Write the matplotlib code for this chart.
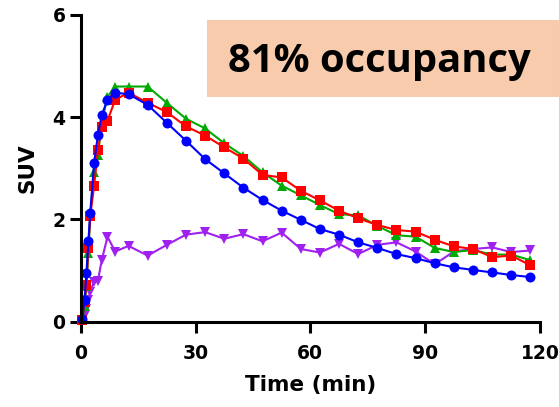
import matplotlib
matplotlib.use("Agg")
import matplotlib.pyplot as plt
from matplotlib.patches import Rectangle

times = [0.4, 1.0, 1.5, 2.0, 2.5, 3.5, 4.5, 5.5, 7.0, 9.0, 12.5,
         17.5, 22.5, 27.5, 32.5, 37.5, 42.5, 47.5, 52.5, 57.5, 62.5, 67.5,
         72.5, 77.5, 82.5, 87.5, 92.5, 97.5, 102.5, 107.5, 112.5, 117.5]

blue = [0.05, 0.42, 0.95, 1.57, 2.13, 3.10, 3.65, 4.04, 4.34, 4.48, 4.45,
        4.24, 3.89, 3.54, 3.18, 2.90, 2.62, 2.38, 2.17, 1.99, 1.81, 1.70,
        1.55, 1.44, 1.32, 1.24, 1.14, 1.06, 1.01, 0.96, 0.91, 0.87]

red = [0.02, 0.39, 0.72, 1.43, 2.07, 2.66, 3.36, 3.80, 3.93, 4.34, 4.48,
       4.28, 4.10, 3.82, 3.64, 3.41, 3.19, 2.87, 2.82, 2.56, 2.37, 2.17,
       2.02, 1.89, 1.79, 1.76, 1.60, 1.47, 1.42, 1.26, 1.29, 1.10]

green = [0.02, 0.30, 0.70, 1.34, 2.10, 2.93, 3.25, 3.90, 4.40, 4.60, 4.60,
         4.60, 4.28, 3.97, 3.78, 3.49, 3.24, 2.92, 2.66, 2.47, 2.28, 2.10,
         2.08, 1.87, 1.69, 1.66, 1.44, 1.36, 1.40, 1.31, 1.31, 1.20]

purple = [0.02, 0.12, 0.25, 0.42, 0.58, 0.78, 0.80, 1.20, 1.66, 1.37, 1.48,
          1.29, 1.50, 1.70, 1.75, 1.62, 1.71, 1.57, 1.74, 1.42, 1.35, 1.52,
          1.32, 1.50, 1.55, 1.37, 1.12, 1.37, 1.42, 1.45, 1.36, 1.39]

x_ticks = [0, 30, 60, 90, 120]
y_ticks = [0, 2, 4, 6]
annotation = "81% occupancy"

fig = plt.figure(figsize=(5.59, 4.07), dpi=100)
ax = fig.add_axes([80.7 / 559, 1 - 321.5 / 407, (540 - 80.7) / 559, (321.5 - 15) / 407])

series = [
    (purple, "#A020F0", "v"),
    (green, "#00AA00", "^"),
    (red, "#FF0000", "s"),
    (blue, "#0000FF", "o"),
]
for vals, col, mk in series:
    ax.plot(times, vals, color=col, marker=mk, markersize=7.2, linewidth=1.5,
            markeredgewidth=0, clip_on=False)

ax.set_xlim(0, 120)
ax.set_ylim(0, 6)
ax.set_xticks(x_ticks)
ax.set_yticks(y_ticks)
for s in ["top", "right"]:
    ax.spines[s].set_visible(False)
for s in ["left", "bottom"]:
    ax.spines[s].set_linewidth(2.2)
ax.tick_params(axis="both", direction="out", length=8, width=2.2,
               labelsize=13.5, pad=3)
ax.tick_params(axis="x", pad=8)
for lbl in ax.get_xticklabels() + ax.get_yticklabels():
    lbl.set_fontweight("bold")
    lbl.set_fontfamily("DejaVu Sans")

ax.set_xlabel("Time (min)", fontsize=15.5, fontweight="bold", labelpad=9)
ax.set_ylabel("SUV", fontsize=15.5, fontweight="bold", labelpad=11)

rect = Rectangle((207.3 / 559, 1 - 97.3 / 407), 1 - 207.3 / 559, (97.3 - 20) / 407,
                 transform=fig.transFigure, facecolor="#F8CBAD", edgecolor="none",
                 zorder=5)
fig.patches.append(rect)
fig.text(228.3 / 559, 1 - 71.7 / 407, annotation, fontsize=28.8, fontweight="bold",
         family="Open Sans", ha="left", va="baseline", color="black", zorder=6)

fig.savefig("out.png", dpi=100)
